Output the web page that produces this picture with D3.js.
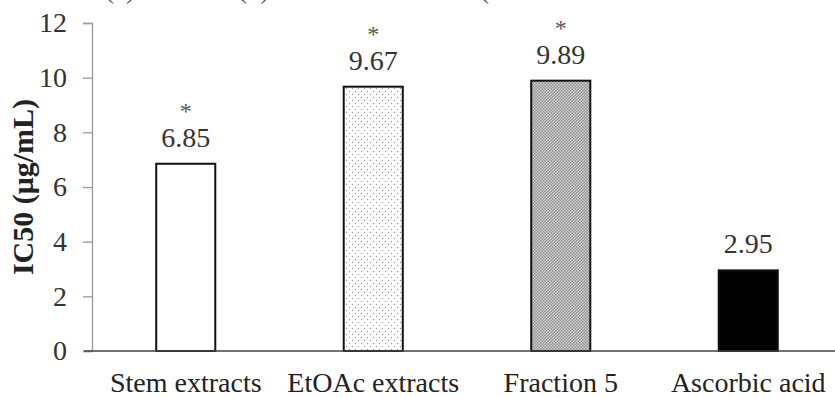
<!DOCTYPE html>
<html lang="en">
<head>
    <meta charset="utf-8">
    <title>IC50</title>
    <script src="https://d3js.org/d3.v7.min.js"></script>
    <style>
        body { margin: 0; background: #fff; }
    </style>
</head>
<body>
<div id="chart"></div>
<script>
    // Chart data
    const categories = ["Stem extracts", "EtOAc extracts", "Fraction 5", "Ascorbic acid"];
    const values = [6.85, 9.67, 9.89, 2.95];
    const valueLabels = ["6.85", "9.67", "9.89", "2.95"];
    const marks = ["*", "*", "*", ""];
    const yTicks = [0, 2, 4, 6, 8, 10, 12];

    const W = 835, H = 398;
    const margin = {top: 23, left: 92, bottom: 47};
    const serif = "'Liberation Serif', 'DejaVu Serif', serif";

    const svg = d3.select("#chart").append("svg")
        .attr("width", W).attr("height", H)
        .style("font-family", serif);

    // fill patterns
    const defs = svg.append("defs");
    const dots = defs.append("pattern").attr("id", "dots")
        .attr("patternUnits", "userSpaceOnUse").attr("width", 6).attr("height", 6);
    dots.append("rect").attr("width", 6).attr("height", 6).attr("fill", "#fff");
    dots.append("circle").attr("cx", 1.5).attr("cy", 1.5).attr("r", 0.7).attr("fill", "#999");
    dots.append("circle").attr("cx", 4.5).attr("cy", 4.5).attr("r", 0.7).attr("fill", "#999");

    const hatch = defs.append("pattern").attr("id", "hatch")
        .attr("patternUnits", "userSpaceOnUse").attr("width", 3).attr("height", 3);
    hatch.append("rect").attr("width", 3).attr("height", 3).attr("fill", "#d4d4d4");
    hatch.append("rect").attr("width", 1.5).attr("height", 1.5).attr("fill", "#8c8c8c");
    hatch.append("rect").attr("x", 1.5).attr("y", 1.5).attr("width", 1.5).attr("height", 1.5).attr("fill", "#8c8c8c");

    const fills = ["#fff", "url(#dots)", "url(#hatch)", "#000"];

    const x = d3.scaleBand()
        .domain(categories)
        .range([margin.left, 842])
        .paddingInner(0.685)
        .paddingOuter(0.3425);

    const y = d3.scaleLinear()
        .domain([0, 12])
        .range([H - margin.bottom, margin.top]);

    // cut-off caption fragments at the very top
    svg.append("g")
        .attr("fill", "#555")
        .attr("font-size", 27)
        .selectAll("text")
        .data([["(a)", 105], ["(b)", 238], ["(", 480]])
        .join("text")
        .attr("x", d => d[1])
        .attr("y", -2)
        .style("font-family", serif)
        .text(d => d[0]);

    // Y axis
    const yAxis = svg.append("g")
        .attr("transform", `translate(${margin.left},0)`)
        .call(d3.axisLeft(y).tickValues(yTicks).tickSize(9).tickPadding(16));
    yAxis.select(".domain").attr("stroke", "#999").attr("stroke-width", 1.3);
    yAxis.selectAll(".tick line").attr("stroke", "#999").attr("stroke-width", 1.3);
    yAxis.selectAll(".tick text")
        .attr("font-size", 28)
        .attr("fill", "#333")
        .style("font-family", serif);

    // Y label
    svg.append("text")
        .attr("transform", `translate(33,${(y(0) + y(12)) / 2}) rotate(-90)`)
        .attr("text-anchor", "middle")
        .attr("font-size", 30)
        .attr("font-weight", "bold")
        .attr("fill", "#222")
        .style("font-family", serif)
        .text("IC50 (μg/mL)");

    // Bars
    svg.append("g")
        .selectAll("rect")
        .data(categories)
        .join("rect")
        .attr("x", d => x(d))
        .attr("y", (d, i) => y(values[i]))
        .attr("width", x.bandwidth())
        .attr("height", (d, i) => y(0) - y(values[i]))
        .attr("fill", (d, i) => fills[i])
        .attr("stroke", "#111")
        .attr("stroke-width", 2);

    // Baseline
    svg.append("line")
        .attr("x1", margin.left - 8).attr("x2", W)
        .attr("y1", y(0)).attr("y2", y(0))
        .attr("stroke", "#444").attr("stroke-width", 1.6);

    // Value labels
    svg.append("g")
        .selectAll("text")
        .data(categories)
        .join("text")
        .attr("x", d => x(d) + x.bandwidth() / 2)
        .attr("y", (d, i) => y(values[i]) - 17)
        .attr("text-anchor", "middle")
        .attr("font-size", 28)
        .attr("fill", "#333")
        .style("font-family", serif)
        .text((d, i) => valueLabels[i]);

    // Significance marks
    svg.append("g")
        .selectAll("text")
        .data(categories)
        .join("text")
        .attr("x", d => x(d) + x.bandwidth() / 2)
        .attr("y", (d, i) => y(values[i]) - 45)
        .attr("text-anchor", "middle")
        .attr("font-size", 24)
        .attr("fill", "#555")
        .style("font-family", serif)
        .text((d, i) => marks[i]);

    // Category labels
    svg.append("g")
        .selectAll("text")
        .data(categories)
        .join("text")
        .attr("x", d => x(d) + x.bandwidth() / 2)
        .attr("y", 392)
        .attr("text-anchor", "middle")
        .attr("font-size", 28)
        .attr("fill", "#222")
        .style("font-family", serif)
        .text(d => d);
</script>
</body>
</html>
